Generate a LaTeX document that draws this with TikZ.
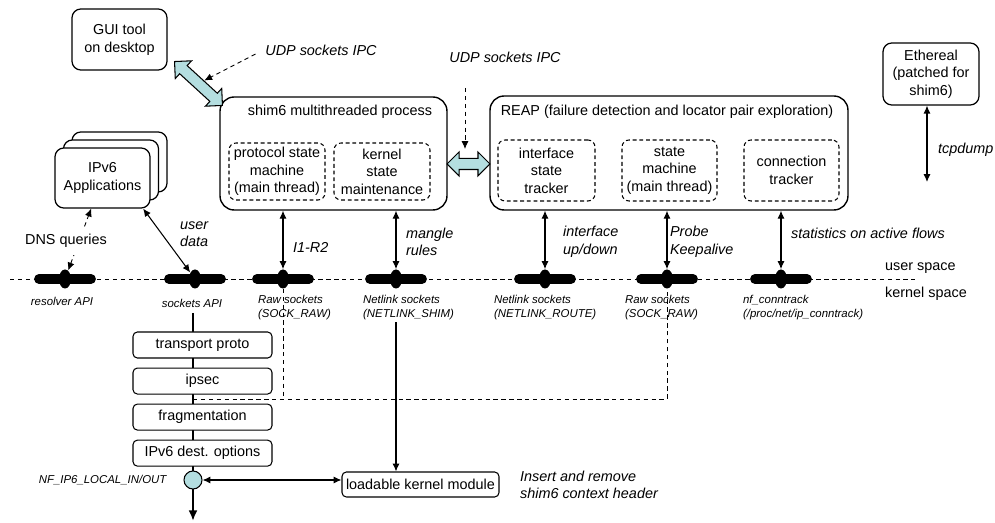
\documentclass[tikz,border=0pt]{standalone}
\usepackage{fontspec}
\setmainfont{Liberation Sans}
\usetikzlibrary{positioning,calc,shapes.arrows,shapes.geometric,arrows.meta}
\definecolor{ipcblue}{RGB}{180,222,224}
\tikzset{
  >={Latex[length=4.5pt,width=4pt]},
  txt/.style={font=\fontsize{8.2}{10}\selectfont, inner sep=1pt},
  lbl/.style={font=\fontsize{8.2}{10}\selectfont\itshape, inner sep=1pt, align=left},
  tiny/.style={font=\fontsize{6.5}{8}\selectfont\itshape, inner sep=1pt, align=left},
  app/.style={txt, draw, line width=0.7pt, rounded corners=5pt, fill=white, align=center},
  proc/.style={draw, line width=0.8pt, rounded corners=8pt},
  thread/.style={txt, draw, dashed, dash pattern=on 2.2pt off 1.6pt, line width=0.6pt,
    rounded corners=4pt, align=center},
  layer/.style={txt, draw, line width=0.6pt, rounded corners=2.5pt, fill=white,
    minimum width=2.78cm, minimum height=0.52cm},
  knob/.style={ellipse, fill=black, minimum width=0.24cm, minimum height=0.38cm, inner sep=0pt},
  knobbar/.style={line width=5.6pt, line cap=round},
  sep/.style={dash pattern=on 2.5pt off 2pt, line width=0.5pt},
  link/.style={<->, line width=0.6pt},
  stackline/.style={line width=1.7pt},
  fatarrow/.style={double arrow, draw, fill=ipcblue, line width=0.6pt, inner sep=0.1cm,
    double arrow head extend=0.13cm, double arrow tip angle=90},
  hookpt/.style={circle, draw, fill=ipcblue, line width=0.6pt, minimum size=0.36cm, inner sep=0pt}
}
\begin{document}
\begin{tikzpicture}[x=0.02cm, y=-0.02cm]
\useasboundingbox (0,0) rectangle (995,523);

% user / kernel boundary
\coordinate (ubl) at (10,279);
\coordinate (ubr) at (915,279);
\draw[sep] (ubl) -- (ubr);
\node[txt, anchor=west] (uspace) at (883,268) {user space};
\node[txt, anchor=west] (kspace) at (883,294) {kernel space};

% access points on the boundary
\foreach \n/\x in {kres/65, ksock/195, kraw/283, kshim/396, kroute/545, kraw2/667, kct/781} {
  \draw[knobbar] (\x-26,279) -- (\x+26,279);
  \node[knob] (\n) at (\x,279) {};
}
\node[tiny, align=center] (reslbl) at (62,301) {resolver API};
\node[tiny, align=center] (socklbl) at (192,303) {sockets API};
\node[tiny, anchor=west] (rawlbl) at (256,308) {Raw sockets\\(SOCK\_RAW)};
\node[tiny, anchor=west] (shimlbl) at (361,308) {Netlink sockets\\(NETLINK\_SHIM)};
\node[tiny, anchor=west] (routelbl) at (492,308) {Netlink sockets\\(NETLINK\_ROUTE)};
\node[tiny, anchor=west] (raw2lbl) at (623,308) {Raw sockets\\(SOCK\_RAW)};
\node[tiny, anchor=west] (ctlbl) at (741,308) {nf\_conntrack\\(/proc/net/ip\_conntrack)};

% user space processes
\node[app, minimum width=1.9cm, minimum height=1.22cm] (gui) at (119.5,39.5) {GUI tool\\on desktop};

\node[proc, minimum width=4.54cm, minimum height=2.26cm] (shim) at (333.5,153.5) {};
\node[txt] (shimttl) at (340,112) {shim6 multithreaded process};
\node[thread, minimum width=1.92cm, minimum height=1.14cm] (psm) at (277,171.5) {protocol state\\machine\\(main thread)};
\node[thread, minimum width=1.92cm, minimum height=1.14cm] (kst) at (382,171.5) {kernel\\state\\maintenance};

\node[proc, minimum width=7.16cm, minimum height=2.28cm] (reap) at (669,153) {};
\node[txt] (reapttl) at (667,112) {REAP (failure detection and locator pair exploration)};
\node[thread, minimum width=1.94cm, minimum height=1.22cm] (ift) at (546.5,170.5) {interface\\state\\tracker};
\node[thread, minimum width=1.9cm, minimum height=1.22cm] (rsm) at (669.5,170.5) {state\\machine\\(main thread)};
\node[thread, minimum width=1.9cm, minimum height=1.22cm] (ctr) at (791.5,170.5) {connection\\tracker};

\node[app, minimum width=1.92cm, minimum height=1.24cm] (ether) at (931,74) {Ethereal\\(patched for\\shim6)};

\node[app, minimum width=1.9cm, minimum height=1.2cm] (apps3) at (119.5,162) {};
\node[app, minimum width=1.9cm, minimum height=1.2cm] (apps2) at (111,170) {};
\node[app, minimum width=1.9cm, minimum height=1.2cm] (apps) at (102.5,178) {IPv6\\Applications};

% IPC
\node[fatarrow, minimum height=1.3cm, rotate=-42.5] (ipc1) at (198.5,83.5) {};
\node[fatarrow, minimum height=0.86cm] (ipc2) at (468.5,164) {};
\node[lbl] (udp1) at (321,50) {UDP sockets IPC};
\draw[sep, ->, shorten <=5pt] (udp1.west) -- (ipc1);
\node[lbl] (udp2) at (505,57) {UDP sockets IPC};
\coordinate (udp2in) at (465,88);
\draw[sep, ->, shorten >=0.3cm] (udp2in) -- (udp2in |- ipc2);

\coordinate (tcpend) at (927,182);
\draw[link] (ether.south -| tcpend) -- (tcpend);
\node[lbl, anchor=west] (tcplbl) at (936,150) {tcpdump};

% user to kernel
\draw[sep, <->] (kres) -- (apps);
\node[txt, fill=white, inner ysep=4pt] (dnslbl) at (66,241) {DNS queries};
\draw[link] (apps.-37) -- (ksock);
\node[lbl, anchor=west] (udlbl) at (178,234) {user\\data};

\draw[link] (shim.south -| kraw) -- (kraw);
\node[lbl, anchor=west] (i1lbl) at (291,247) {I1-R2};
\draw[link] (shim.south -| kshim) -- (kshim);
\node[lbl, anchor=west] (manglbl) at (404,242) {mangle\\rules};
\draw[link] (reap.south -| kroute) -- (kroute);
\node[lbl, anchor=west] (iflbl) at (561,242) {interface\\up/down};
\draw[link] (reap.south -| kraw2) -- (kraw2);
\node[lbl, anchor=west] (prlbl) at (668,242) {Probe\\Keepalive};
\draw[link] (reap.south -| kct) -- (kct);
\node[lbl, anchor=west] (stlbl) at (789,233) {statistics on active flows};

% kernel stack
\coordinate (stackend) at (193,521);
\draw[stackline, -{Latex[length=6pt,width=5pt]}, shorten <=2pt] (stackend |- socklbl.south) -- (stackend);
\node[layer] (tp) at (202.5,345) {transport proto};
\node[layer, below=0.18cm of tp] (ipsec) {ipsec};
\node[layer, below=0.18cm of ipsec] (frag) {fragmentation};
\node[layer, below=0.18cm of frag] (dopt) {IPv6 dest. options};
\node[hookpt] (hook) at (193,480) {};
\node[tiny, left=0.3cm of hook] (nflbl) {NF\_IP6\_LOCAL\_IN/OUT};

\node[txt, draw, line width=0.6pt, rounded corners=2.5pt, minimum width=3.14cm, minimum height=0.5cm] (lkm) at (420.5,484.5) {loadable kernel module};
\draw[link] (hook) -- (hook -| lkm.west);
\draw[->, line width=0.6pt] (shimlbl.south -| kshim) -- (lkm.north -| kshim);
\node[lbl, anchor=west] (inslbl) at (518,485) {Insert and remove\\shim6 context header};

% raw socket taps
\coordinate (tap) at ($(ipsec.south -| hook)!0.5!(frag.north -| hook)$);
\draw[sep] (kraw) -- (kraw |- tap);
\draw[sep] (tap) -| (kraw2);
\end{tikzpicture}
\end{document}
